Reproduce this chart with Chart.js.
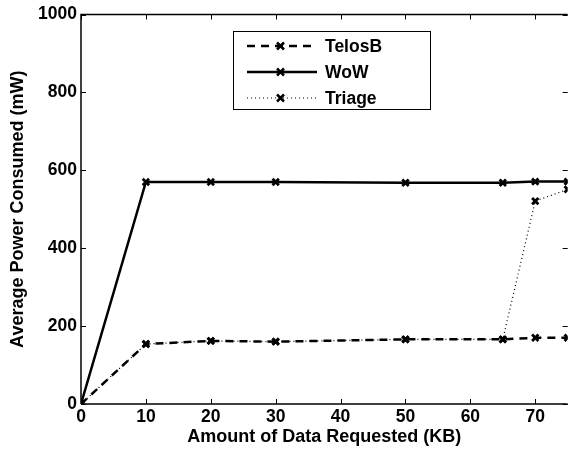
<!DOCTYPE html>
<html>
<head>
<meta charset="utf-8">
<script src="https://cdn.jsdelivr.net/npm/chart.js@4/dist/chart.umd.min.js"></script>
<style>
  html, body { margin: 0; padding: 0; background: #fff; }
  #wrap { width: 575px; height: 449px; position: relative; }
</style>
</head>
<body>
<div id="wrap"><canvas id="c"></canvas></div>
<script>
const xValues = [0, 10, 20, 30, 50, 65, 70, 75];
const telosB = [0, 154, 162, 160, 166, 166, 170, 170];
const wow    = [0, 570, 570, 570, 568, 568, 571, 571];
const triage = [0, 154, 162, 160, 166, 166, 521, 551];
const xTicks = [0, 10, 20, 30, 40, 50, 60, 70];
const yTicks = [0, 200, 400, 600, 800, 1000];

const FONT = "'Liberation Sans', Arial, sans-serif";

const series = [
  { label: 'TelosB', data: telosB, dash: [8, 6], width: 2.5 },
  { label: 'WoW',    data: wow,    dash: [],     width: 2.5 },
  { label: 'Triage', data: triage, dash: [1, 3], width: 1.2 },
];

const pts = arr => arr.map((y, i) => ({ x: xValues[i], y }));

// inward ticks on all four sides plus the box legend
const frame = {
  id: 'frame',
  afterDraw(chart) {
    const { ctx, chartArea: a, scales: { x, y } } = chart;
    ctx.save();
    ctx.strokeStyle = '#000';
    ctx.lineWidth = 1;
    ctx.beginPath();
    xTicks.forEach(v => {
      const px = Math.round(x.getPixelForValue(v)) + 0.5;
      ctx.moveTo(px, a.bottom); ctx.lineTo(px, a.bottom - 5);
      ctx.moveTo(px, a.top); ctx.lineTo(px, a.top + 5);
    });
    yTicks.forEach(v => {
      const py = Math.round(y.getPixelForValue(v)) + 0.5;
      ctx.moveTo(a.left, py); ctx.lineTo(a.left + 5, py);
      ctx.moveTo(a.right, py); ctx.lineTo(a.right - 5, py);
    });
    ctx.stroke();
    ctx.lineWidth = 1.5;
    ctx.beginPath();
    ctx.moveTo(a.left, a.bottom); ctx.lineTo(a.left, a.top); ctx.lineTo(a.right, a.top);
    ctx.moveTo(a.left, a.bottom); ctx.lineTo(a.right, a.bottom);
    ctx.stroke();

    // legend
    ctx.fillStyle = '#fff';
    ctx.fillRect(233, 31, 197, 78);
    ctx.lineWidth = 1;
    ctx.strokeRect(233.5, 31.5, 197, 78);
    ctx.font = 'bold 17.5px ' + FONT;
    ctx.textBaseline = 'middle';
    ctx.fillStyle = '#000';
    series.forEach((s, i) => {
      const ly = 46 + i * 26;
      ctx.lineWidth = s.width;
      ctx.setLineDash(s.dash);
      ctx.beginPath();
      ctx.moveTo(247, ly); ctx.lineTo(317, ly);
      ctx.stroke();
      ctx.setLineDash([]);
      ctx.lineWidth = 2.5;
      ctx.beginPath();
      ctx.moveTo(277, ly - 3.5); ctx.lineTo(284, ly + 3.5);
      ctx.moveTo(284, ly - 3.5); ctx.lineTo(277, ly + 3.5);
      ctx.stroke();
      ctx.fillText(s.label, 325, ly + 1);
    });
    ctx.restore();
  }
};

new Chart(document.getElementById('c'), {
  type: 'line',
  data: {
    datasets: series.map(s => ({
      label: s.label,
      data: pts(s.data),
      borderColor: '#000',
      borderWidth: s.width,
      borderDash: s.dash,
      pointStyle: 'crossRot',
      pointRadius: 4.5,
      pointBorderWidth: 2.8,
      pointBorderColor: '#000',
      pointBackgroundColor: '#000',
      tension: 0,
      fill: false,
    })),
  },
  options: {
    responsive: true,
    maintainAspectRatio: false,
    animation: false,
    layout: { padding: { top: 14, right: 0, left: 7, bottom: 0 } },
    plugins: { legend: { display: false }, tooltip: { enabled: false } },
    scales: {
      x: {
        type: 'linear', min: 0, max: 75,
        afterBuildTicks: s => { s.ticks = xTicks.map(v => ({ value: v })); },
        afterFit: s => { s.height = 45; },
        grid: { display: false, drawTicks: false, tickLength: 0 },
        border: { display: false },
        ticks: { color: '#000', padding: 3, callback: v => String(v),
                 font: { family: FONT, size: 17.5, weight: 'bold' } },
        title: { display: true, text: 'Amount of Data Requested (KB)', color: '#000', padding: { top: 0, bottom: 1 },
                 font: { family: FONT, size: 18, weight: 'bold' } },
      },
      y: {
        type: 'linear', min: 0, max: 1000,
        afterBuildTicks: s => { s.ticks = yTicks.map(v => ({ value: v })); },
        afterFit: s => { s.width = 74; },
        grid: { display: false, drawTicks: false, tickLength: 0 },
        border: { display: false },
        ticks: { color: '#000', padding: 4, callback: v => String(v),
                 font: { family: FONT, size: 17.5, weight: 'bold' } },
        title: { display: true, text: 'Average Power Consumed (mW)', color: '#000', padding: { top: 0, bottom: 4 },
                 font: { family: FONT, size: 18, weight: 'bold' } },
      },
    },
  },
  plugins: [frame],
});
</script>
</body>
</html>
